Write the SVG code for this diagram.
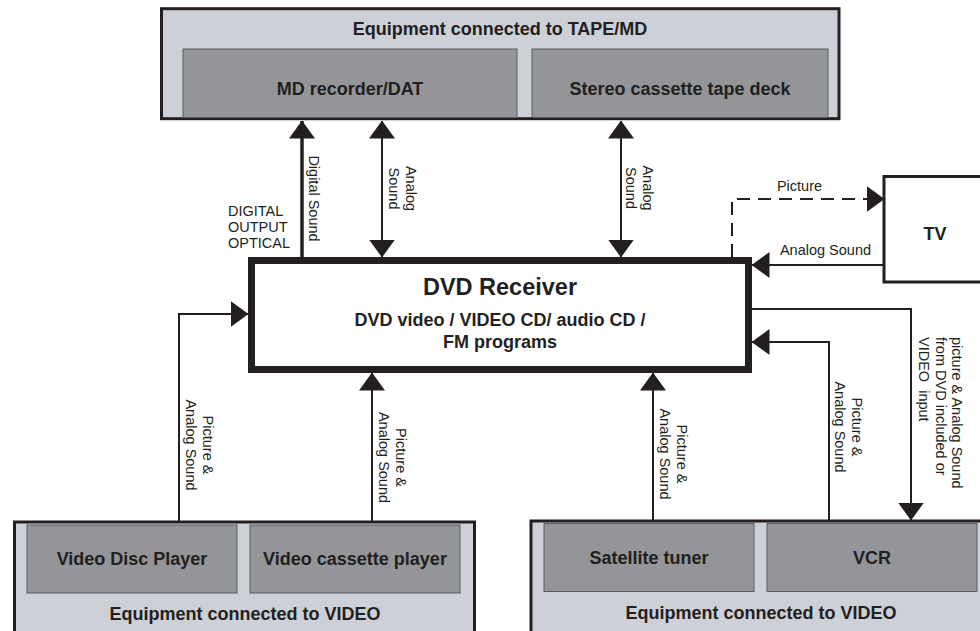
<svg xmlns="http://www.w3.org/2000/svg" width="980" height="631" viewBox="0 0 980 631">
<style>
  .outer { fill: #cdd0d6; stroke: #231f20; stroke-width: 3; }
  .inner { fill: #939598; stroke: #5a5b5e; stroke-width: 1; }
  .plain { fill: #ffffff; stroke: #231f20; stroke-width: 3; }
  .bold { font-family: "Liberation Sans", Arial, sans-serif; font-weight: bold; fill: #231f20; text-anchor: middle; }
  .lbl { font-family: "Liberation Sans", Arial, sans-serif; font-size: 14.5px; fill: #231f20; }
  .mid { text-anchor: middle; }
  .wire { fill: none; stroke: #231f20; stroke-width: 2; }
  .thick { stroke-width: 3.5; }
  .dash { stroke-dasharray: 13 8; }
</style>
<defs>
  <marker id="ah" markerUnits="userSpaceOnUse" markerWidth="18" markerHeight="26" viewBox="0 0 18 26" refX="17.5" refY="13" orient="auto-start-reverse">
    <path d="M0,0 L18,13 L0,26 z" fill="#231f20"/>
  </marker>
</defs>

<g id="tape-group">
  <rect class="outer" x="161.5" y="8.7" width="677.5" height="110"/>
  <text class="bold" x="500" y="35" font-size="18">Equipment connected to TAPE/MD</text>
</g>
<g id="md-recorder">
  <rect class="inner" x="183" y="49" width="334" height="68.5"/>
  <text class="bold" x="350" y="95" font-size="18">MD recorder/DAT</text>
</g>
<g id="cassette-deck">
  <rect class="inner" x="532" y="49" width="296" height="68.5"/>
  <text class="bold" x="680" y="95" font-size="18">Stereo cassette tape deck</text>
</g>

<g id="tv">
  <rect class="plain" x="884" y="176.5" width="110" height="105.5"/>
  <text class="bold" x="935" y="240" font-size="18">TV</text>
</g>

<g id="dvd-receiver">
  <rect x="251.5" y="260.5" width="497" height="109" fill="#ffffff" stroke="#231f20" stroke-width="7"/>
  <text class="bold" x="500" y="295" font-size="23.5">DVD Receiver</text>
  <text class="bold" x="500" y="326" font-size="18">DVD video / VIDEO CD/ audio CD /</text>
  <text class="bold" x="500" y="348" font-size="18">FM programs</text>
</g>

<g id="video-group-left">
  <rect class="outer" x="14.5" y="522" width="460" height="130"/>
  <text class="bold" x="245" y="620" font-size="18">Equipment connected to VIDEO</text>
</g>
<g id="video-disc-player">
  <rect class="inner" x="27" y="525" width="210" height="68"/>
  <text class="bold" x="132" y="565" font-size="18">Video Disc Player</text>
</g>
<g id="video-cassette-player">
  <rect class="inner" x="250" y="525" width="210" height="68"/>
  <text class="bold" x="355" y="565" font-size="18">Video cassette player</text>
</g>

<g id="video-group-right">
  <rect class="outer" x="531" y="521" width="461" height="130"/>
  <text class="bold" x="761" y="619" font-size="18">Equipment connected to VIDEO</text>
</g>
<g id="satellite-tuner">
  <rect class="inner" x="544" y="523.5" width="210" height="68"/>
  <text class="bold" x="649" y="564" font-size="18">Satellite tuner</text>
</g>
<g id="vcr">
  <rect class="inner" x="767" y="523.5" width="210" height="68"/>
  <text class="bold" x="872" y="564" font-size="18">VCR</text>
</g>

<g id="connectors">
  <!-- Digital sound -->
  <line class="wire thick" x1="302" y1="257" x2="302" y2="121" marker-end="url(#ah)"/>
  <!-- Analog sound double arrows -->
  <line class="wire" x1="382" y1="121" x2="382" y2="257" marker-start="url(#ah)" marker-end="url(#ah)"/>
  <line class="wire" x1="621" y1="121" x2="621" y2="257" marker-start="url(#ah)" marker-end="url(#ah)"/>
  <!-- Picture to TV (dashed) -->
  <polyline class="wire dash" points="732,257 732,199 884,199" marker-end="url(#ah)"/>
  <!-- Analog sound from TV -->
  <line class="wire" x1="884" y1="265" x2="752" y2="265" marker-end="url(#ah)"/>
  <!-- Video disc player -> DVD -->
  <polyline class="wire" points="179,522 179,314 248,314" marker-end="url(#ah)"/>
  <!-- Video cassette player -> DVD -->
  <line class="wire" x1="372" y1="522" x2="372" y2="373" marker-end="url(#ah)"/>
  <!-- Satellite tuner -> DVD -->
  <line class="wire" x1="653" y1="521" x2="653" y2="373" marker-end="url(#ah)"/>
  <!-- VCR -> DVD -->
  <polyline class="wire" points="829,521 829,342 752,342" marker-end="url(#ah)"/>
  <!-- DVD -> VCR -->
  <polyline class="wire" points="752,309 911,309 911,520" marker-end="url(#ah)"/>
</g>

<g id="labels">
  <text class="lbl" x="228" y="216">DIGITAL</text>
  <text class="lbl" x="228" y="232">OUTPUT</text>
  <text class="lbl" x="228" y="248">OPTICAL</text>
  <text class="lbl mid" transform="translate(309,198.5) rotate(90)">Digital Sound</text>
  <text class="lbl mid" transform="translate(406,188.5) rotate(90)"><tspan x="0" y="0">Analog</tspan><tspan x="0" y="16.8">Sound</tspan></text>
  <text class="lbl mid" transform="translate(642.7,188) rotate(90)"><tspan x="0" y="0">Analog</tspan><tspan x="0" y="16.8">Sound</tspan></text>
  <text class="lbl mid" x="799.5" y="191">Picture</text>
  <text class="lbl mid" x="825.5" y="255">Analog Sound</text>
  <text class="lbl mid" transform="translate(203.4,445) rotate(90)"><tspan x="0" y="0">Picture &amp;</tspan><tspan x="0" y="17">Analog Sound</tspan></text>
  <text class="lbl mid" transform="translate(396.4,457.5) rotate(90)"><tspan x="0" y="0">Picture &amp;</tspan><tspan x="0" y="17">Analog Sound</tspan></text>
  <text class="lbl mid" transform="translate(677.4,454) rotate(90)"><tspan x="0" y="0">Picture &amp;</tspan><tspan x="0" y="17">Analog Sound</tspan></text>
  <text class="lbl mid" transform="translate(852.4,427) rotate(90)"><tspan x="0" y="0">Picture &amp;</tspan><tspan x="0" y="17">Analog Sound</tspan></text>
  <text class="lbl" xml:space="preserve" transform="translate(952.4,337) rotate(90)"><tspan x="0" y="0">picture &amp; Analog Sound</tspan><tspan x="0" y="16.5">from DVD included or</tspan><tspan x="0" y="33">VIDEO  input</tspan></text>
</g>
</svg>
